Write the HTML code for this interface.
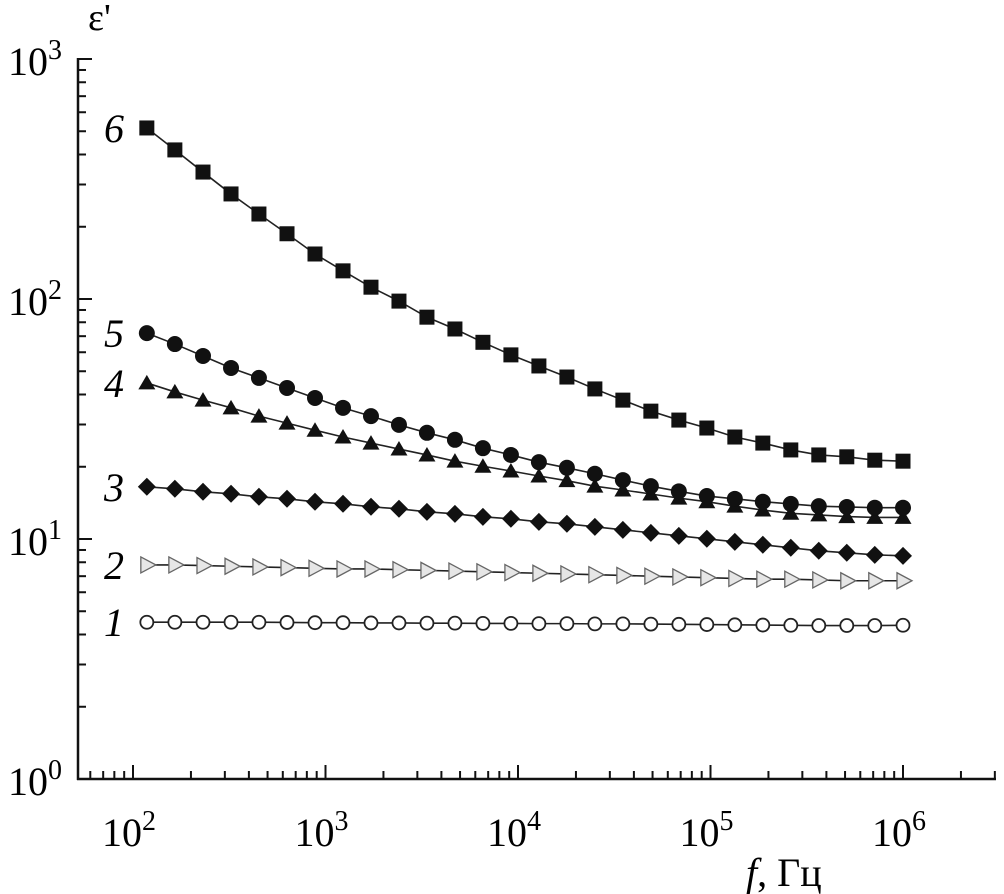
<!DOCTYPE html>
<html><head><meta charset="utf-8"><style>
body{margin:0;background:#fff;}
svg{display:block;font-family:"Liberation Serif","DejaVu Serif",serif;}
</style></head><body>
<svg id="chart" width="1004" height="894" viewBox="0 0 1004 894" xmlns="http://www.w3.org/2000/svg">
<g id="axes"></g>
<g id="series"></g>
<text x="88" y="30" font-size="38">ε'</text>
<text x="746" y="886" font-size="40"><tspan font-style="italic">f</tspan>, Гц</text>
</svg>
<script>
const freqs=[118,165,231,323,451,631,882,1233,1723,2408,3365,4703,6573,9187,12840,17950,25080,35060,49000,68480,95720,133800,187000,261300,365200,510500,713500,1000000];
const s6=[516,418,338,274,226,187,154,131,112,98,84,75,66,58.5,52.6,47.3,42.2,37.9,34.1,31.3,29.0,26.6,25.1,23.5,22.4,22.0,21.3,21.1];
const s5=[72.1,64.9,57.9,51.6,46.9,42.6,38.7,35.2,32.5,29.9,27.7,25.9,23.9,22.4,20.9,19.8,18.7,17.6,16.6,15.8,15.1,14.7,14.3,14.0,13.7,13.6,13.5,13.5];
const s4=[44.7,41.0,37.9,35.2,32.5,30.4,28.4,26.6,25.1,23.7,22.4,21.1,20.1,19.2,18.3,17.5,16.6,16.0,15.4,14.8,14.3,13.7,13.2,12.8,12.6,12.4,12.3,12.3];
const s3=[16.5,16.19,15.73,15.43,14.99,14.71,14.29,14.02,13.62,13.36,12.98,12.73,12.37,12.14,11.79,11.57,11.24,10.92,10.61,10.31,10.02,9.73,9.46,9.19,8.93,8.76,8.59,8.51];
const s2=[7.8,7.8,7.75,7.7,7.65,7.6,7.55,7.5,7.5,7.45,7.4,7.35,7.3,7.25,7.2,7.15,7.1,7.05,7.0,6.95,6.9,6.85,6.8,6.8,6.75,6.7,6.7,6.7];
const s1=[4.5,4.5,4.5,4.5,4.5,4.49,4.48,4.48,4.47,4.47,4.46,4.46,4.45,4.45,4.44,4.44,4.43,4.43,4.42,4.41,4.4,4.39,4.38,4.37,4.36,4.36,4.36,4.37];
const xTicks=[2,3,4,5,6];
const yTicks=[0,1,2,3];
const seriesLabels=["1","2","3","4","5","6"];

const NS="http://www.w3.org/2000/svg";
const X=f=>133+(Math.log10(f)-2)*192.5;
const Y=v=>779-Math.log10(v)*240;
function mk(tag,attrs,parent){const e=document.createElementNS(NS,tag);for(const k in attrs)e.setAttribute(k,attrs[k]);parent.appendChild(e);return e;}
const ax=document.getElementById('axes');
let l=mk('line',{x1:78,y1:Y(1000)-1,x2:78,y2:780,stroke:'#111','stroke-width':2.5},ax);


l=mk('line',{x1:77,y1:779,x2:996,y2:779,stroke:'#111','stroke-width':2.5},ax);


for(let d=1;d<=6;d++){for(let m=1;m<10;m++){const f=m*Math.pow(10,d);const x=X(f);if(x<79||x>996)continue;const len=m===1?14:8;
 const t=mk('line',{x1:x,y1:779,x2:x,y2:779-len,stroke:'#111','stroke-width':2},ax);
 
 }}
for(let d=0;d<3;d++){for(let m=1;m<=10;m++){const v=m*Math.pow(10,d);const y=Y(v);const len=(m===1||m===10)?14:8;
 const t=mk('line',{x1:78,y1:y,x2:78+len,y2:y,stroke:'#111','stroke-width':2},ax);
 
 }}
xTicks.forEach(p=>{const t=mk('text',{x:X(Math.pow(10,p))-4,y:846,'font-size':40,'text-anchor':'middle'},ax);t.innerHTML='10<tspan dy="-16" font-size="28">'+p+'</tspan>';
 
 });
yTicks.forEach(p=>{const t=mk('text',{x:8,y:Y(Math.pow(10,p))+16,'font-size':40},ax);t.innerHTML='10<tspan dy="-16" font-size="28">'+p+'</tspan>';
 
 });

const sg=document.getElementById('series');
function drawSeries(vals,type,name){
 const g=mk('g',{},sg);
 
 
 const pts=vals.map((v,i)=>X(freqs[i])+','+Y(v)).join(' ');
 const pl=mk('polyline',{points:pts,fill:'none',stroke:'#222','stroke-width':1.6},g);
 
 
 vals.forEach((v,i)=>{const x=X(freqs[i]),y=Y(v);let m;
  if(type==='square')m=mk('rect',{x:x-7.5,y:y-7.5,width:15,height:15,fill:'#111'},g);
  else if(type==='circle')m=mk('circle',{cx:x,cy:y,r:8,fill:'#111'},g);
  else if(type==='tri')m=mk('polygon',{points:`${x},${y-8} ${x-8.5},${y+6.5} ${x+8.5},${y+6.5}`,fill:'#111'},g);
  else if(type==='diamond')m=mk('polygon',{points:`${x},${y-9} ${x+9},${y} ${x},${y+9} ${x-9},${y}`,fill:'#111'},g);
  else if(type==='rtri')m=mk('polygon',{points:`${x-6},${y-8} ${x+9},${y} ${x-6},${y+8}`,fill:'#e6e6e6',stroke:'#666','stroke-width':1.3},g);
  else m=mk('circle',{cx:x,cy:y,r:6.5,fill:'#fff',stroke:'#222','stroke-width':1.8},g);
  
  });
}
drawSeries(s1,'ocircle','series-1');
drawSeries(s2,'rtri','series-2');
drawSeries(s3,'diamond','series-3');
drawSeries(s4,'tri','series-4');
drawSeries(s5,'circle','series-5');
drawSeries(s6,'square','series-6');
const firsts=[s1[0],s2[0],s3[0],s4[0],s5[0],s6[0]];
seriesLabels.forEach((lab,i)=>{const t=mk('text',{x:104,y:Y(firsts[i])+14,'font-size':40,'font-style':'italic'},sg);t.textContent=lab;
 
 });
</script>
</body></html>
